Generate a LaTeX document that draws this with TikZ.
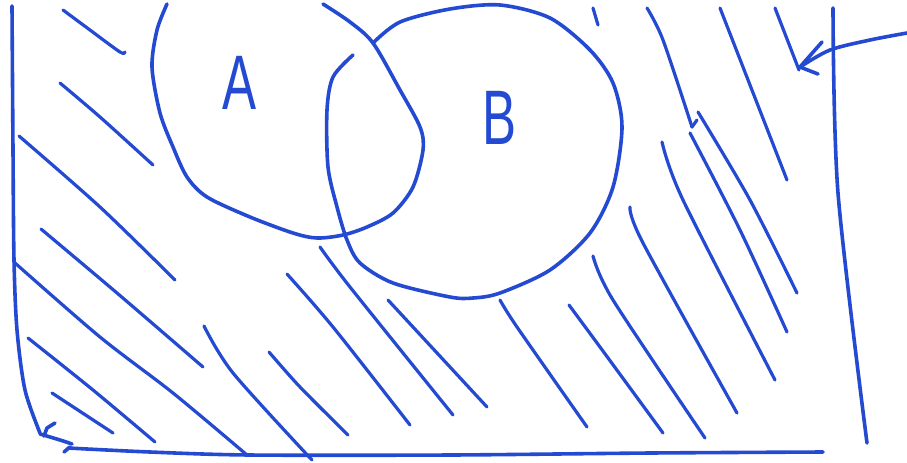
\documentclass[tikz,border=0pt]{standalone}
\usepackage{fontspec}
\setmainfont{Liberation Sans}
\definecolor{ink}{RGB}{36,74,210}
\begin{document}
\begin{tikzpicture}[x=0.75pt,y=-0.75pt,
  pen/.style={draw=ink,line width=2.7pt,line cap=round,line join=round},
  hatch/.style={draw=ink,line width=2.4pt,line cap=round,line join=round},
  letter/.style={text=ink,inner sep=0pt,font=\fontsize{58}{58}\selectfont,xscale=0.66}]
\useasboundingbox (0,0) rectangle (907,462);
% frame
\draw[pen] plot[smooth] coordinates {(12,6) (13,150) (14,260) (17,330) (25,390) (40,433)};
\draw[pen] (55,423) -- (47,428) -- (44,436);
\draw[pen] plot[smooth] coordinates {(40,434) (60,440) (72,444)};
\draw[pen] (64,452) -- (70,447);
\draw[pen] plot[smooth] coordinates {(68,448) (150,452) (250,455) (450,455) (650,453) (823,452)};
\draw[pen] plot[smooth] coordinates {(833,8) (838,193) (867,443)};
% arrow
\draw[pen] plot[smooth] coordinates {(907,33) (870,40) (830,50) (800,67)};
\draw[pen] (822,42) -- (800,67) -- (818,74);
% circle A
\draw[pen] plot[smooth] coordinates {(167,4) (157,30) (152,67) (160,113) (173,147) (187,177) (207,197) (250,217) (293,233) (317,238) (343,235) (367,227) (393,213) (413,187) (423,150) (420,127) (400,90) (373,43) (350,22) (323,4)};
% circle B
\draw[pen] plot[smooth] coordinates {(373,43) (400,22) (450,9) (500,5) (550,18) (590,50) (613,83) (622,127) (613,187) (590,233) (550,270) (500,293) (473,298) (450,297) (393,283) (360,263) (347,240) (337,207) (328,167) (327,110) (333,77) (353,55)};
% labels
\node[letter] (A) at (240,83) {A};
\node[letter] (B) at (500,118) {B};
% hatching
\draw[hatch] plot[smooth] coordinates {(63,10) (90,30) (120,52) (125,52)};
\draw[hatch] plot[smooth] coordinates {(60,83) (100,117) (153,165)};
\draw[hatch] plot[smooth] coordinates {(19,136) (100,207) (175,280)};
\draw[hatch] plot[smooth] coordinates {(41,229) (117,293) (203,367)};
\draw[hatch] plot[smooth] coordinates {(15,263) (100,337) (173,393) (247,455)};
\draw[hatch] plot[smooth] coordinates {(28,338) (93,390) (155,442)};
\draw[hatch] plot[smooth] coordinates {(52,393) (113,433)};
\draw[hatch] plot[smooth] coordinates {(204,326) (233,373) (312,460)};
\draw[hatch] plot[smooth] coordinates {(269,352) (300,387) (348,435)};
\draw[hatch] plot[smooth] coordinates {(287,274) (333,327) (410,425)};
\draw[hatch] plot[smooth] coordinates {(320,247) (350,287) (453,415)};
\draw[hatch] plot[smooth] coordinates {(388,300) (450,367) (487,407)};
\draw[hatch] plot[smooth] coordinates {(500,300) (517,327) (587,427)};
\draw[hatch] plot[smooth] coordinates {(569,305) (600,347) (663,433)};
\draw[hatch] plot[smooth] coordinates {(593,256) (613,300) (705,438)};
\draw[hatch] plot[smooth] coordinates {(630,207) (643,243) (737,413)};
\draw[hatch] plot[smooth] coordinates {(662,142) (683,200) (775,380)};
\draw[hatch] plot[smooth] coordinates {(647,8) (663,40) (692,127)};
\draw[hatch] (692,127) -- (697,120);
\draw[hatch] plot[smooth] coordinates {(690,133) (740,230) (787,332)};
\draw[hatch] plot[smooth] coordinates {(698,112) (750,200) (797,293)};
\draw[hatch] (720,8) -- (787,180);
\draw[hatch] (775,8) -- (799,70);
\draw[hatch] (593,8) -- (598,25);
\end{tikzpicture}
\end{document}
